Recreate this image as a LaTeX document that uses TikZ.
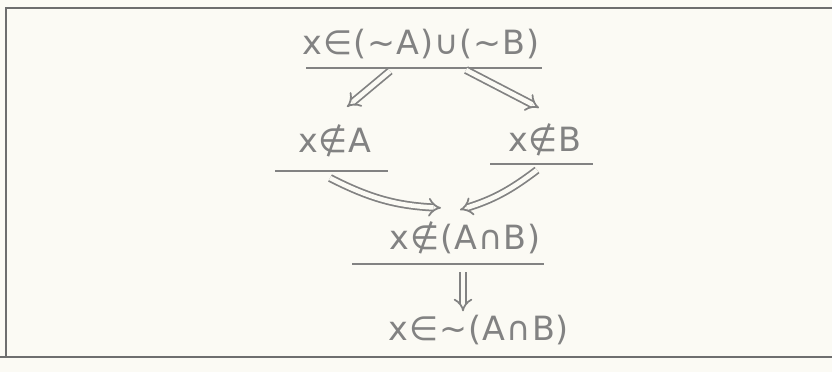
\documentclass[tikz,border=0pt]{standalone}
\usepackage{fontspec}
\usetikzlibrary{arrows.meta,calc}
\newfontfamily\handfont[LetterSpace=3]{DejaVu Sans}
\definecolor{pencil}{HTML}{828282}
\definecolor{paper}{HTML}{FBFAF4}

\begin{document}
\begin{tikzpicture}[
  x=0.02cm, y=-0.02cm,
  stmt/.style={text=pencil, inner sep=2pt, font=\handfont\fontsize{19}{22}\selectfont},
  rule/.style={draw=pencil, line width=1.1pt},
  imp/.style={draw=pencil, double=paper, double distance=2.6pt, line width=1pt,
    -{Implies}},
  frame/.style={draw=pencil!85!black, line width=1.4pt},
]

% ============================================================
% PAPER AND FRAME
% ============================================================
\useasboundingbox[fill=paper] (0,0) rectangle (832,372);
\draw[frame] (832,8) -- (6,8) -- (6,357);
\draw[frame] (0,357) -- (832,357);

% ============================================================
% STATEMENTS
% ============================================================
\node[stmt] (union) at (421,44) {x∈(∼A)∪(∼B)};
\node[stmt] (notA)  at (335,141) {x∉A};
\node[stmt] (notB)  at (545,140) {x∉B};
\node[stmt] (notAB) at (465,238) {x∉(A∩B)};
\node[stmt] (compl) at (479,330) {x∈∼(A∩B)};

% underlines
\draw[rule] (306,68) coordinate (uL) -- (542,68) coordinate (uR);
\draw[rule] (275,171) coordinate (aL) -- (388,171) coordinate (aR);
\draw[rule] (490,164) coordinate (bL) -- (593,164) coordinate (bR);
\draw[rule] (352,264) coordinate (cL) -- (544,264) coordinate (cR);

% ============================================================
% INFERENCES
% ============================================================
\coordinate (fromU1) at (390,71);
\coordinate (fromU2) at (466,70);
\coordinate (fromA)  at (330,178);
\coordinate (fromB)  at (537,170);
\coordinate (fromAB) at (463,272);

\draw[imp] (fromU1) -- ([shift={(12,-14)}]notA.north);
\draw[imp] (fromU2) -- ([shift={(-6,-12)}]notB.north);
\draw[imp] (fromA) to[bend right=12] ([shift={(-24,-10)}]notAB.north);
\draw[imp] (fromB) to[bend left=10] ([shift={(-5,-8)}]notAB.north);
\draw[imp] (fromAB) -- ([shift={(-16,0)}]compl.north);

\end{tikzpicture}
\end{document}
